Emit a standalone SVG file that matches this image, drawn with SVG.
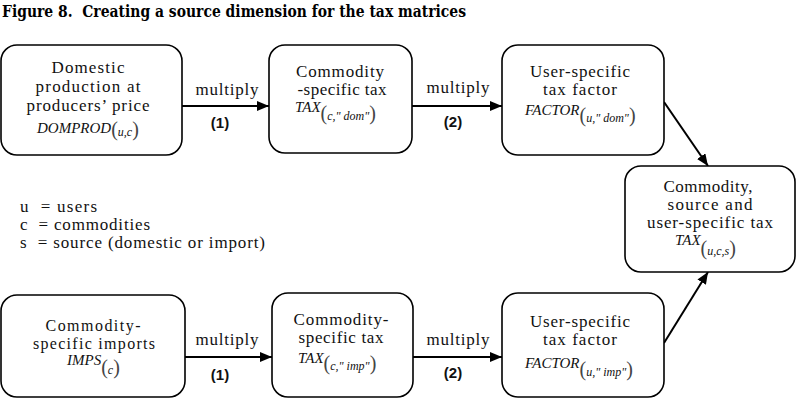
<svg xmlns="http://www.w3.org/2000/svg" width="803" height="408" viewBox="0 0 803 408">
<style>
.box{fill:#fff;stroke:#000;stroke-width:1.6}
.t{font-family:"Liberation Serif","Times New Roman",serif;font-size:17px;fill:#111;text-anchor:middle}
.sm{font-size:16px}
.lg{font-family:"Liberation Serif","Times New Roman",serif;font-size:17px;fill:#111;white-space:pre}
.v{font-family:"Liberation Serif",serif;font-style:italic;font-size:15px;fill:#111}
.s{font-size:12px}
.p{font-style:normal;font-size:20px;fill:#444}
.n{font-family:"Liberation Sans",Arial,sans-serif;font-weight:bold;font-size:15px;fill:#111;text-anchor:middle}
.c{stroke:#000;stroke-width:2;fill:none;marker-end:url(#ah)}
.title{font-family:"DejaVu Serif","Liberation Serif",serif;font-weight:bold;font-size:17px;fill:#000;white-space:pre}
</style>
<defs>
<marker id="ah" markerUnits="userSpaceOnUse" markerWidth="12" markerHeight="10" refX="12" refY="5" orient="auto">
<path d="M0,0 L12,5 L0,10 Z" fill="#000"/>
</marker>
</defs>
<text class="title" x="2" y="17" textLength="464" lengthAdjust="spacingAndGlyphs">Figure 8.  Creating a source dimension for the tax matrices</text>

<g id="connectors">
<line class="c" x1="182" y1="106" x2="269" y2="106"/>
<line class="c" x1="412" y1="106" x2="502" y2="106"/>
<line class="c" x1="664" y1="102" x2="708" y2="166"/>
<line class="c" x1="185" y1="357" x2="272" y2="357"/>
<line class="c" x1="413" y1="357" x2="502" y2="357"/>
<line class="c" x1="664" y1="343" x2="708" y2="272"/>
<text class="t" x="227" y="95" textLength="63">multiply</text>
<text class="n" x="220" y="128">(1)</text>
<text class="t" x="458" y="93" textLength="63">multiply</text>
<text class="n" x="453" y="127">(2)</text>
<text class="t" x="227" y="345" textLength="63">multiply</text>
<text class="n" x="220" y="380">(1)</text>
<text class="t" x="458" y="345" textLength="63">multiply</text>
<text class="n" x="453" y="378">(2)</text>
</g>

<g id="domprod">
<rect class="box" x="1" y="45" width="181" height="110" rx="16"/>
<text class="t" x="88" y="73" textLength="73">Domestic</text>
<text class="t" x="88" y="92" textLength="105">production at</text>
<text class="t" x="88" y="111" textLength="123">producers’ price</text>
<text class="v" x="37" y="133">DOMPROD<tspan class="p" dy="3">(</tspan><tspan class="s">u,c</tspan><tspan class="p">)</tspan></text>
</g>

<g id="tax-dom">
<rect class="box" x="269" y="45" width="143" height="108" rx="16"/>
<text class="t" x="340" y="77" textLength="88">Commodity</text>
<text class="t" x="342" y="95" textLength="89">-specific tax</text>
<text class="v" x="295" y="112">TAX<tspan class="p" dy="8">(</tspan><tspan class="s">c," dom"</tspan><tspan class="p">)</tspan></text>
</g>

<g id="factor-dom">
<rect class="box" x="502" y="45" width="162" height="110" rx="16"/>
<text class="t" x="580" y="77" textLength="100">User-specific</text>
<text class="t" x="580" y="95" textLength="74">tax factor</text>
<text class="v" x="525" y="115">FACTOR<tspan class="p" dy="7">(</tspan><tspan class="s">u," dom"</tspan><tspan class="p">)</tspan></text>
</g>

<g id="tax-ucs">
<rect class="box" x="625" y="166" width="170" height="106" rx="16"/>
<text class="t" x="708" y="192" textLength="89">Commodity,</text>
<text class="t" x="710" y="210" textLength="85">source and</text>
<text class="t" x="710" y="228" textLength="126">user-specific tax</text>
<text class="v" x="675" y="245">TAX<tspan class="p" dy="10">(</tspan><tspan class="s">u,c,s</tspan><tspan class="p">)</tspan></text>
</g>

<g id="legend">
<text class="lg" x="20" y="212" textLength="77">u  = users</text>
<text class="lg" x="20" y="230" textLength="130">c  = commodities</text>
<text class="lg" x="20" y="248" textLength="245">s  = source (domestic or import)</text>
</g>

<g id="imps">
<rect class="box" x="1" y="295" width="184" height="102" rx="16"/>
<text class="t sm" x="93" y="331" textLength="95">Commodity-</text>
<text class="t sm" x="94" y="349" textLength="122">specific imports</text>
<text class="v" x="67" y="365">IMPS<tspan class="p" dy="9">(</tspan><tspan class="s">c</tspan><tspan class="p">)</tspan></text>
</g>

<g id="tax-imp">
<rect class="box" x="272" y="293" width="141" height="104" rx="16"/>
<text class="t" x="341" y="325" textLength="95">Commodity-</text>
<text class="t" x="341" y="343" textLength="85">specific tax</text>
<text class="v" x="298" y="363">TAX<tspan class="p" dy="7">(</tspan><tspan class="s">c," imp"</tspan><tspan class="p">)</tspan></text>
</g>

<g id="factor-imp">
<rect class="box" x="502" y="293" width="162" height="104" rx="16"/>
<text class="t" x="580" y="327" textLength="100">User-specific</text>
<text class="t" x="580" y="345" textLength="74">tax factor</text>
<text class="v" x="525" y="368">FACTOR<tspan class="p" dy="8">(</tspan><tspan class="s">u," imp"</tspan><tspan class="p">)</tspan></text>
</g>
</svg>
